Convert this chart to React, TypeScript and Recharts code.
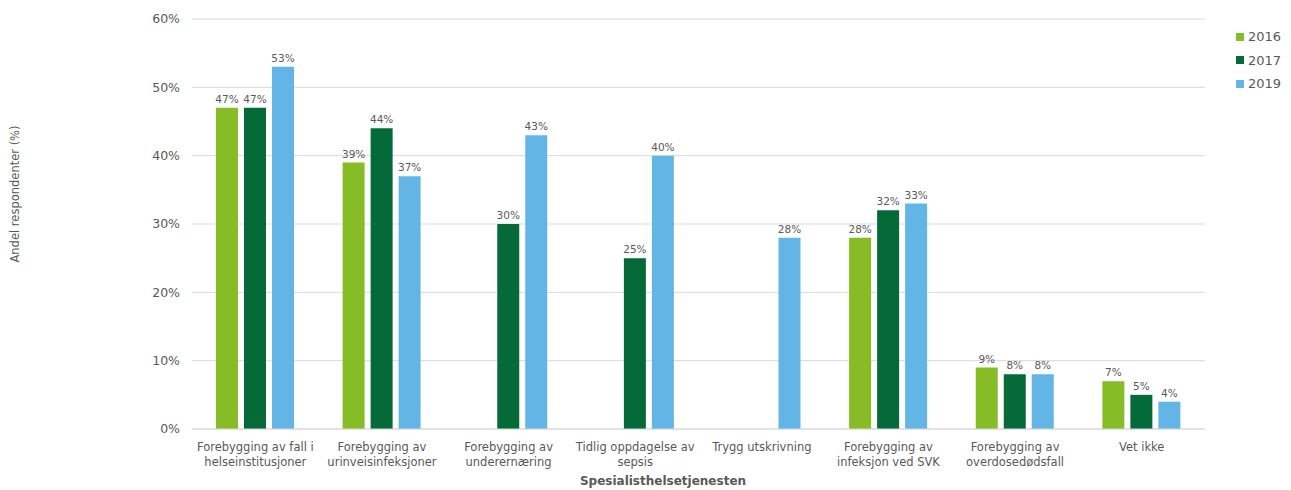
import React from 'react';
import { BarChart, Bar, XAxis, YAxis, CartesianGrid, LabelList } from 'recharts';

const categories = [
  'Forebygging av fall i|helseinstitusjoner',
  'Forebygging av|urinveisinfeksjoner',
  'Forebygging av|underernæring',
  'Tidlig oppdagelse av|sepsis',
  'Trygg utskrivning',
  'Forebygging av|infeksjon ved SVK',
  'Forebygging av|overdosedødsfall',
  'Vet ikke',
];
const values2016 = [47, 39, null, null, null, 28, 9, 7];
const values2017 = [47, 44, 30, 25, null, 32, 8, 5];
const values2019 = [53, 37, 43, 40, 28, 33, 8, 4];
const yTicks = [0, 10, 20, 30, 40, 50, 60];
const seriesNames = ['2016', '2017', '2019'];
const colors = ['#86BC25', '#046A38', '#62B5E5'];

const data = categories.map((c, i) => ({
  name: c,
  y2016: values2016[i],
  y2017: values2017[i],
  y2019: values2019[i],
}));

const FONT = '"DejaVu Sans", Verdana, sans-serif';
const TEXT = '#595959';

const CatTick = (props: any) => {
  const { x, y, payload } = props;
  const lines = String(payload.value).split('|');
  return (
    <text x={x} y={y} textAnchor="middle" fill={TEXT} fontSize={11.5} fontFamily={FONT}>
      {lines.map((l, i) => (
        <tspan key={i} x={x} dy={i === 0 ? 14 : 15}>{l}</tspan>
      ))}
    </text>
  );
};

const labelFmt = (v: any) => (v == null ? '' : `${v}%`);

export default function App() {
  return (
    <div style={{ position: 'absolute', left: 0, top: 0, width: 1291, height: 490, background: '#fff' }}>
      <BarChart
        width={1291}
        height={490}
        data={data}
        margin={{ top: 19, right: 86, bottom: 31, left: 122 }}
        barGap={6}
        barSize={22}
      >
        <CartesianGrid vertical={false} stroke="#d9d9d9" />
        <XAxis
          dataKey="name"
          height={30}
          tick={<CatTick />}
          tickLine={false}
          axisLine={{ stroke: '#d9d9d9' }}
          interval={0}
          label={(p: any) => (
            <text x={663} y={485} textAnchor="middle" fill={TEXT} fontSize={12} fontWeight="bold" fontFamily={FONT}>
              Spesialisthelsetjenesten
            </text>
          )}
        />
        <YAxis
          width={70}
          domain={[0, 60]}
          ticks={yTicks}
          tickFormatter={(v: number) => `${v}%`}
          tick={{ fill: TEXT, fontSize: 12.5, fontFamily: FONT }}
          tickLine={false}
          tickSize={0}
          tickMargin={12}
          axisLine={false}
          label={(p: any) => (
            <text
              x={19}
              y={194}
              transform="rotate(-90 19 194)"
              textAnchor="middle"
              fill={TEXT}
              fontSize={11.5}
              fontFamily={FONT}
            >
              Andel respondenter (%)
            </text>
          )}
        />
        {['y2016', 'y2017', 'y2019'].map((k, i) => (
          <Bar key={k} dataKey={k} name={seriesNames[i]} fill={colors[i]} isAnimationActive={false}>
            <LabelList
              dataKey={k}
              position="top"
              offset={5}
              formatter={labelFmt}
              fill={TEXT}
              fontSize={10.5}
              fontFamily={FONT}
            />
          </Bar>
        ))}
      </BarChart>
      <div style={{ position: 'absolute', left: 1236, top: 25, fontFamily: FONT, fontSize: 13, color: TEXT }}>
        {seriesNames.map((n, i) => (
          <div key={n} style={{ display: 'flex', alignItems: 'center', height: 23.5 }}>
            <span style={{ display: 'inline-block', width: 8, height: 8, background: colors[i], marginRight: 4 }} />
            <span>{n}</span>
          </div>
        ))}
      </div>
    </div>
  );
}
